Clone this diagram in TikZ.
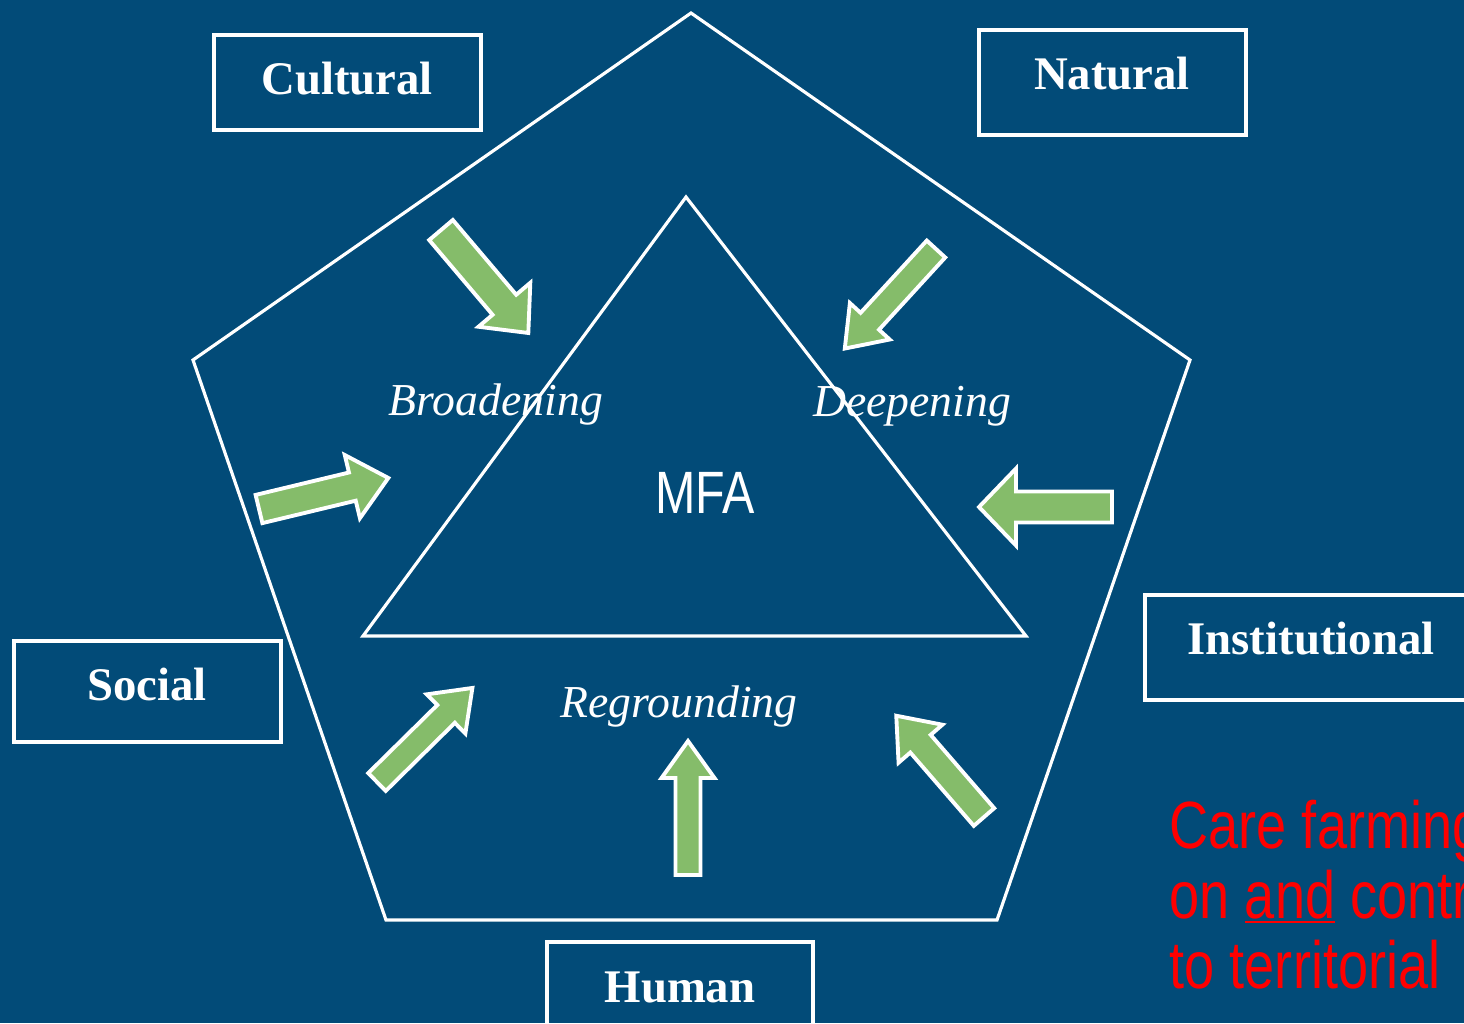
\documentclass[tikz,border=0pt]{standalone}
\usepackage{fontspec}
\setmainfont{Liberation Serif}
\newfontfamily\narrowsans[FakeStretch=0.81]{Liberation Sans}
\newcommand{\noteunderline}[1]{\setbox0=\hbox{#1}\rlap{\rule[-0.08em]{\wd0}{0.04em}}\box0\relax}
\definecolor{slideblue}{RGB}{2,75,120}
\definecolor{arrowgreen}{RGB}{133,188,106}

\begin{document}
\begin{tikzpicture}[x=0.01cm, y=-0.01cm,
		factorbox/.style={rectangle, draw=white, line width=1.1pt, inner sep=0pt},
		factortext/.style={text=white, font=\fontsize{13.3}{16}\selectfont\bfseries, anchor=base, inner sep=0pt},
		processtext/.style={text=white, font=\fontsize{13}{16}\selectfont\itshape, anchor=base, inner sep=0pt},
		notetext/.style={text=red, font=\narrowsans\fontsize{19}{23}\selectfont, anchor=base west, inner sep=0pt},
		outline/.style={draw=white, line width=0.9pt, line join=miter},
		arrowbody/.style={fill=arrowgreen, draw=white, line width=1.1pt, line join=miter},
		pics/greenarrow/.style n args={3}{code={
			\draw[arrowbody] (0,-#2) -- (#1-37,-#2) -- (#1-37,-#3) -- (#1,0) -- (#1-37,#3) -- (#1-37,#2) -- (0,#2) -- cycle;
		}}]
		\useasboundingbox (0,0) rectangle (1464,1023);
		\fill[slideblue] (0,0) rectangle (1464,1023);
		\clip (0,0) rectangle (1464,1023);

		\draw[outline] (691,13) -- (1190,360) -- (997,920) -- (386,920) -- (193,360) -- cycle;
		\draw[outline] (686,197) -- (1026,636) -- (363,636) -- cycle;

		\pic[rotate=-49.7] (arrCultural) at (441,230) {greenarrow={135}{15.5}{34}};
		\pic[rotate=-132.5] (arrNatural) at (936,249) {greenarrow={135}{12.5}{27}};
		\pic[rotate=13.5] (arrSocial) at (259,509) {greenarrow={133}{14.5}{32.5}};
		\pic[rotate=180] (arrInstitutional) at (1112,507) {greenarrow={133}{15.5}{38.5}};
		\pic[rotate=44.6] (arrSocialLow) at (377,782) {greenarrow={134}{12.5}{27.5}};
		\pic[rotate=90] (arrHuman) at (688,875) {greenarrow={134}{12.5}{26.5}};
		\pic[rotate=130.9] (arrInstLow) at (984,817) {greenarrow={134}{13.5}{29}};

		\node[factorbox, minimum width=2.67cm, minimum height=0.95cm] (cultural) at (347.5,82.5) {};
		\node[factorbox, minimum width=2.67cm, minimum height=1.05cm] (natural) at (1112.5,82.5) {};
		\node[factorbox, minimum width=3.4cm, minimum height=1.05cm] (institutional) at (1315,647.5) {};
		\node[factorbox, minimum width=2.67cm, minimum height=1.01cm] (social) at (147.5,691.5) {};
		\node[factorbox, minimum width=2.66cm, minimum height=1.08cm] (human) at (680,996) {};

		\node[factortext] (culturalText) at (347,94) {Cultural};
		\node[factortext] (naturalText) at (1112,89) {Natural};
		\node[factortext] (institutionalText) at (1311,654) {Institutional};
		\node[factortext] (socialText) at (147,700) {Social};
		\node[factortext] (humanText) at (680,1002) {Human};

		\node[processtext] (broadening) at (496,415) {Broadening};
		\node[processtext] (deepening) at (912,416) {Deepening};
		\node[processtext] (regrounding) at (679,717) {Regrounding};
		\node[text=white, font=\narrowsans\fontsize{17}{21}\selectfont, anchor=base, inner sep=0pt] (mfa) at (705,513) {MFA};

		\node[notetext] (note1) at (1169,848) {Care farming};
		\node[notetext] (note2) at (1169,918) {on \noteunderline{and} contr};
		\node[notetext] (note3) at (1169,988) {to territorial};
	\end{tikzpicture}
\end{document}
